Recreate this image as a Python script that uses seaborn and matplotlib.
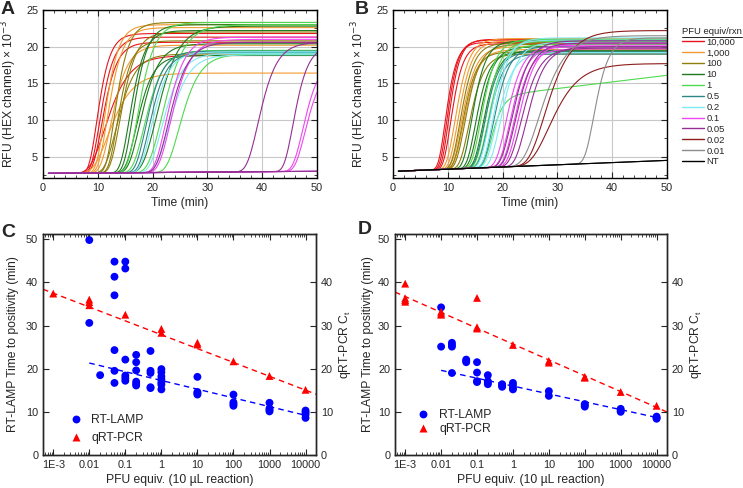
import numpy as np
import pandas as pd
import seaborn as sns
import matplotlib.pyplot as plt
from matplotlib.lines import Line2D
from matplotlib.ticker import FixedLocator, MultipleLocator, NullFormatter

sns.set_style("ticks")
plt.rcParams['font.family'] = ['Liberation Sans', 'DejaVu Sans']
plt.rcParams['axes.linewidth'] = 1.0

# ---- amplification curves (panels A, B) ----
groups = ['10,000', '1,000', '100', '10', '1', '0.5', '0.2', '0.1', '0.05', '0.02', '0.01', 'NT']
group_colors = ['#e8141c', '#f29a2e', '#8f7d0c', '#1f7a1f', '#4fd94f', '#2e8787',
                '#7eeaf2', '#f046f0', '#952f95', '#8e1c1c', '#8c8c8c', '#000000']

# panel A: group, inflection time (min), width, plateau, late creep  (nan = no amplification)
a_group = ['10,000', '10,000', '10,000', '10,000',
           '1,000', '1,000', '1,000', '1,000',
           '100', '100', '100', '100',
           '10', '10', '10', '10', '10',
           '1', '1', '1', '1',
           '0.5', '0.5',
           '0.2', '0.2', '0.2',
           '0.1', '0.1', '0.1', '0.1', '0.1',
           '0.05', '0.05', '0.05', '0.05', '0.05']
a_mid = [9.8, 10.3, 10.7, 11.2,
         11.2, 11.7, 12.3, 11.8,
         13.0, 13.5, 14.0, 13.3,
         15.7, 16.3, 16.9, 17.6, 20.6,
         17.2, 18.4, 24.8, 21.6,
         18.7, 19.3,
         19.7, 21.6, 22.8,
         22.4, 23.2, 47.4, 47.8, np.nan,
         22.8, 39.2, 45.6, np.nan, np.nan]
a_width = [1.4, 1.5, 1.6, 2.6,
           1.5, 1.6, 1.8, 2.6,
           1.5, 1.5, 1.7, 2.0,
           1.6, 1.6, 1.8, 2.0, 2.4,
           1.8, 2.0, 2.2, 2.4,
           1.8, 1.8,
           1.9, 2.1, 2.2,
           2.0, 2.1, 1.8, 1.8, 1.0,
           2.1, 2.0, 1.6, 1.0, 1.0]
a_plateau = [21.8, 21.3, 20.6, 18.8,
             23.0, 22.6, 20.2, 16.4,
             23.3, 20.8, 22.0, 19.0,
             22.2, 23.0, 18.8, 20.4, 22.8,
             23.3, 19.5, 19.0, 23.0,
             19.4, 19.2,
             19.3, 19.1, 18.9,
             21.3, 21.0, 18.5, 17.5, 0,
             20.6, 20.6, 20.2, 0, 0]
a_creep = [0] * len(a_group)
a_base, a_drift = 2.72, 0.006

# panel B
b_group = ['10,000', '10,000', '10,000', '10,000',
           '1,000', '1,000', '1,000', '1,000',
           '100', '100', '100', '100',
           '10', '10', '10', '10',
           '1', '1', '1', '1',
           '0.5', '0.5', '0.5',
           '0.2', '0.2', '0.2', '0.2',
           '0.1', '0.1', '0.1', '0.1',
           '0.05', '0.05', '0.05', '0.05',
           '0.02', '0.02',
           '0.01', '0.01',
           'NT', 'NT']
b_mid = [9.5, 9.8, 10.1, 10.5,
         11.3, 11.8, 12.4, 12.8,
         12.2, 12.6, 13.1, 13.8,
         14.3, 15.0, 15.6, 16.4,
         16.0, 16.8, 17.3, 17.8,
         16.6, 17.3, 18.3,
         17.6, 18.2, 18.8, 19.6,
         20.6, 21.3, 22.0, 22.8,
         21.6, 22.3, 23.3, 24.3,
         27.6, 28.4,
         26.6, 36.6,
         np.nan, np.nan]
b_width = [1.2, 1.2, 1.2, 1.3,
           1.5, 1.5, 1.6, 1.6,
           1.5, 1.5, 1.6, 1.6,
           1.5, 1.5, 1.6, 1.6,
           1.6, 1.6, 1.7, 1.3,
           1.6, 1.6, 1.7,
           1.7, 1.7, 1.8, 1.8,
           1.8, 1.8, 1.8, 1.9,
           1.9, 1.9, 2.0, 2.0,
           2.8, 3.2,
           2.8, 1.6,
           1.0, 1.0]
b_plateau = [20.6, 20.9, 21.0, 20.4,
             21.1, 20.8, 20.0, 19.6,
             20.5, 19.3, 20.3, 19.0,
             20.8, 19.3, 20.0, 19.5,
             21.0, 20.7, 20.3, 13.2,
             19.3, 19.0, 20.0,
             20.9, 21.2, 19.2, 20.6,
             20.2, 20.0, 19.7, 20.5,
             20.8, 20.5, 19.8, 20.0,
             22.2, 17.7,
             21.5, 21.2,
             0, 0]
b_creep = [0] * 19 + [0.09] + [0] * 21
b_base, b_drift = 3.0, 0.03

time_grid = np.arange(1.0, 50.01, 0.25)


def curve_frame(grp, mid, width, plateau, creep, base0, drift):
    rows = []
    for i in range(len(grp)):
        base = base0 + drift * time_grid
        if np.isnan(mid[i]):
            y = base
        else:
            s = np.exp(-np.exp(-(time_grid - mid[i]) / width[i]))
            y = base * (1 - s) + plateau[i] * s + creep[i] * np.clip(time_grid - mid[i], 0, None) * s
        rows.append(pd.DataFrame({"time": time_grid, "rfu": y, "group": grp[i], "curve": i}))
    return pd.concat(rows, ignore_index=True)


# ---- time to positivity / Ct (panels C, D) ----
c_lamp_pfu = [0.01, 0.01, 0.02,
              0.05, 0.05, 0.05, 0.05, 0.05, 0.05,
              0.1, 0.1, 0.1, 0.1, 0.1, 0.1,
              0.2, 0.2, 0.2, 0.2, 0.2, 0.2,
              0.5, 0.5, 0.5, 0.5, 0.5,
              1, 1, 1, 1, 1, 1, 1,
              10, 10, 10, 10,
              100, 100, 100, 100,
              1000, 1000, 1000, 1000,
              10000, 10000, 10000, 10000]
c_lamp_tp = [49.8, 30.6, 18.5,
             44.8, 41.3, 37.0, 24.3, 19.5, 16.7,
             44.8, 43.2, 22.1, 18.4, 17.8, 17.2,
             23.2, 21.5, 19.6, 17.0, 16.5, 16.1,
             24.1, 19.5, 19.0, 15.7, 15.5,
             19.9, 19.2, 18.2, 17.5, 16.8, 16.3, 15.2,
             18.1, 14.6, 14.3, 14.0,
             14.0, 12.2, 11.8, 11.4,
             12.1, 10.8, 10.4, 10.1,
             10.3, 9.9, 9.4, 8.6]
c_pcr_pfu = [0.001, 0.01, 0.01, 0.01, 0.1, 1, 1, 10, 10, 100, 1000, 10000]
c_pcr_ct = [37.4, 36.0, 35.4, 34.7, 32.5, 29.2, 28.3, 26.0, 25.6, 21.7, 18.3, 15.1]

d_lamp_pfu = [0.01, 0.01,
              0.02, 0.02, 0.02, 0.02,
              0.05, 0.05, 0.05,
              0.1, 0.1, 0.1, 0.1,
              0.2, 0.2, 0.2, 0.2,
              0.5, 0.5, 0.5,
              1, 1, 1, 1,
              10, 10,
              100, 100, 100,
              1000, 1000, 1000,
              10000, 10000, 10000]
d_lamp_tp = [34.2, 25.1,
             26.0, 25.5, 25.1, 19.0,
             22.1, 21.8, 21.5,
             21.5, 19.1, 17.1, 16.9,
             18.5, 17.1, 16.7, 16.4,
             16.4, 16.1, 15.8,
             16.7, 16.1, 15.5, 15.2,
             14.8, 13.7,
             11.8, 11.5, 11.2,
             10.7, 10.3, 10.0,
             8.9, 8.6, 8.4]
d_pcr_pfu = [0.001, 0.001, 0.001, 0.001, 0.01, 0.01, 0.01, 0.1, 0.1, 0.1,
             1, 10, 10, 100, 100, 1000, 10000]
d_pcr_ct = [39.7, 36.3, 35.9, 35.5, 33.2, 32.8, 32.5, 36.4, 29.6, 29.3,
            25.5, 21.8, 21.4, 18.1, 17.9, 14.6, 11.4]

# regression lines: slope per decade, value at 1 PFU, pfu range
c_lamp_fit = (-2.02, 17.27, 0.01, 10000)
c_pcr_fit = (-3.21, 27.86, 5.2e-4, 1.95e4)
d_lamp_fit = (-1.82, 15.97, 0.01, 10000)
d_pcr_fit = (-3.67, 25.7, 5.2e-4, 2.0e4)

pfu_ticks = [1e-3, 1e-2, 1e-1, 1, 10, 100, 1000, 10000]
pfu_labels = ['1E-3', '0.01', '0.1', '1', '10', '100', '1000', '10000']

W, H = 743, 488
fig = plt.figure(figsize=(W / 100, H / 100), dpi=100)


def box(l, t, r, b):
    return [l / W, 1 - b / H, (r - l) / W, (b - t) / H]


palette = dict(zip(groups, group_colors))
FS = 7.8   # tick labels
LS = 8.7   # axis labels


def style_curves(ax):
    ax.set_xlim(0, 50)
    ax.set_ylim(2.1, 25)
    ax.xaxis.set_major_locator(MultipleLocator(10))
    ax.xaxis.set_minor_locator(MultipleLocator(2))
    ax.yaxis.set_major_locator(FixedLocator([5, 10, 15, 20, 25]))
    ax.yaxis.set_minor_locator(FixedLocator([2.5, 7.5, 12.5, 17.5, 22.5]))
    ax.grid(True, which='major', color='#c8c8c8', lw=0.8)
    ax.tick_params(which='both', direction='in', top=True, right=True, labelsize=FS)
    ax.tick_params(which='major', length=4)
    ax.tick_params(which='minor', length=2)
    ax.set_xlabel("Time (min)", fontsize=LS, labelpad=3)
    ax.set_ylabel("RFU (HEX channel) × 10$^{-3}$", fontsize=LS, labelpad=5)
    for sp in ax.spines.values():
        sp.set_color('black')


ax_a = fig.add_axes(box(43, 10, 317, 178))
ax_b = fig.add_axes(box(393, 10, 667, 178))
for ax, df in [(ax_a, curve_frame(a_group, a_mid, a_width, a_plateau, a_creep, a_base, a_drift)),
               (ax_b, curve_frame(b_group, b_mid, b_width, b_plateau, b_creep, b_base, b_drift))]:
    sns.lineplot(data=df, x="time", y="rfu", hue="group", units="curve", estimator=None,
                 palette=palette, lw=0.8, legend=False, sort=False, ax=ax)
    style_curves(ax)

handles = [Line2D([], [], color=c, lw=1.0) for c in group_colors]
leg = ax_b.legend(handles, groups, title="PFU equiv/rxn", loc='upper left',
                  bbox_to_anchor=(1.055, 0.90), frameon=False, fontsize=6.8,
                  title_fontsize=6.8, handlelength=2.3, handletextpad=0.3,
                  labelspacing=0.2, borderaxespad=0, borderpad=0)
leg._legend_box.align = "left"


def style_scatter(ax, left_pad, right_pad):
    ax.set_xscale('log')
    ax.set_xlim(5.2e-4, 1.95e4)
    ax.set_ylim(0, 51.2)
    ax.xaxis.set_major_locator(FixedLocator(pfu_ticks))
    ax.set_xticklabels(pfu_labels)
    minors = [m * d for d in pfu_ticks[:-1] + [1e-4] for m in range(2, 10)]
    ax.xaxis.set_minor_locator(FixedLocator(minors + [2e4]))
    ax.xaxis.set_minor_formatter(NullFormatter())
    ax.yaxis.set_major_locator(MultipleLocator(10))
    ax.tick_params(which='both', direction='in', top=True, labelsize=FS)
    ax.tick_params(which='major', length=4)
    ax.tick_params(which='minor', length=2)
    ax.set_xlabel("PFU equiv. (10 µL reaction)", fontsize=LS, labelpad=3)
    ax.set_ylabel("RT-LAMP Time to positivity (min)", fontsize=LS, labelpad=left_pad)
    axr = ax.twinx()
    axr.set_ylim(ax.get_ylim())
    axr.yaxis.set_major_locator(FixedLocator([0, 10, 20, 30, 40]))
    axr.tick_params(direction='in', length=4, labelsize=FS)
    axr.set_ylabel("qRT-PCR C$_\\mathregular{t}$", fontsize=LS, labelpad=right_pad)


def draw_scatter(ax, lamp_x, lamp_y, pcr_x, pcr_y, lamp_fit, pcr_fit,
                 spacing, anchor, left_pad, right_pad):
    df = pd.concat([
        pd.DataFrame({"pfu": lamp_x, "value": lamp_y, "method": "RT-LAMP"}),
        pd.DataFrame({"pfu": pcr_x, "value": pcr_y, "method": "qRT-PCR"}),
    ], ignore_index=True)
    for fit, col in [(pcr_fit, 'red'), (lamp_fit, 'blue')]:
        slope, icpt, x0, x1 = fit
        xs = np.array([x0, x1])
        ax.plot(xs, slope * np.log10(xs) + icpt, color=col, lw=1.0,
                ls=(0, (4, 3)), zorder=1)
    sns.scatterplot(data=df, x="pfu", y="value", hue="method", style="method",
                    markers={"RT-LAMP": "o", "qRT-PCR": "^"},
                    palette={"RT-LAMP": "blue", "qRT-PCR": "red"},
                    s=32, edgecolor='none', ax=ax, zorder=3)
    style_scatter(ax, left_pad, right_pad)
    ax.legend(loc='lower left', bbox_to_anchor=anchor, frameon=False,
              fontsize=LS, handletextpad=0.3, labelspacing=spacing,
              borderpad=0, borderaxespad=0)


ax_c = fig.add_axes(box(43, 234, 316, 455))
ax_d = fig.add_axes(box(395, 234, 667, 455))
draw_scatter(ax_c, c_lamp_pfu, c_lamp_tp, c_pcr_pfu, c_pcr_ct, c_lamp_fit, c_pcr_fit,
             0.5, (0.075, 0.05), 5, 3)
draw_scatter(ax_d, d_lamp_pfu, d_lamp_tp, d_pcr_pfu, d_pcr_ct, d_lamp_fit, d_pcr_fit,
             0.15, (0.06, 0.09), 3, 3)

for lab, x, y in [("A", 1, 1), ("B", 355, 1), ("C", 1, 224), ("D", 358, 221)]:
    fig.text(x / W, 1 - y / H, lab, fontsize=14, fontweight='bold', va='top', ha='left')

# underline the legend title
fig.canvas.draw()
bb = leg.get_title().get_window_extent()
fig.add_artist(Line2D([bb.x0 / W, bb.x1 / W], [(bb.y0 - 1) / H, (bb.y0 - 1) / H],
                      color='black', lw=0.6, transform=fig.transFigure))

fig.savefig("out.png", dpi=100)
